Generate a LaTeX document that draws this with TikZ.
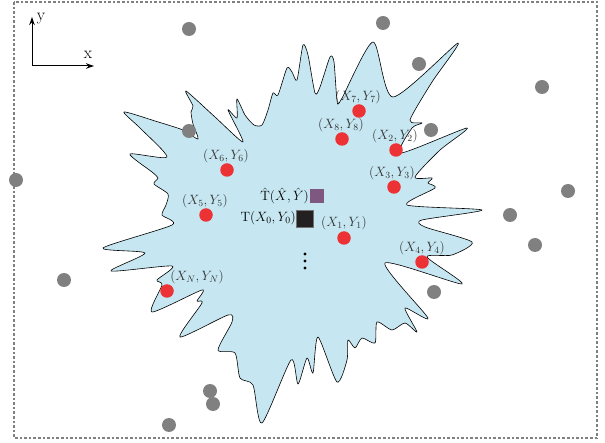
\RequirePackage{fix-cm}
\documentclass[tikz,border=0pt]{standalone}
\usetikzlibrary{arrows.meta}
\definecolor{blobfill}{RGB}{198,231,241}
\definecolor{sensorred}{RGB}{236,50,52}
\definecolor{anchorgray}{RGB}{128,128,128}
\definecolor{estpurple}{RGB}{127,88,130}
\definecolor{truedark}{RGB}{35,32,34}
\begin{document}
\begin{tikzpicture}[x=1pt,y=-1pt,
  graydot/.style={circle,fill=anchorgray,inner sep=0pt,minimum size=14pt},
  reddot/.style={circle,fill=sensorred,inner sep=0pt,minimum size=13.5pt},
  coordlabel/.style={text=black!80,font=\fontsize{13.5}{15}\selectfont,inner sep=0pt},
  targetlabel/.style={text=black,font=\fontsize{13.5}{15}\selectfont,inner sep=0pt,anchor=east},
  axislabel/.style={font=\fontsize{17}{19}\selectfont,inner sep=0pt},
  framebox/.style={draw=anchorgray,line width=1.3pt,dash pattern=on 2.6pt off 2pt},
  axisarrow/.style={line width=1pt,-{Stealth[length=8pt,width=5.5pt]}},
  smalldot/.style={circle,fill=black,inner sep=0pt,minimum size=3.4pt}]

\useasboundingbox (0,0) rectangle (605,443);
\draw[framebox] (14,2) rectangle (597,438);

% axes
\coordinate (orig) at (32,66);
\coordinate (yend) at (32,17);
\coordinate (xend) at (94,66);
\draw[axisarrow] (orig) -- (yend);
\draw[axisarrow] (orig) -- (xend);
\node[axislabel] (ylab) at (41,19) {y};
\node[axislabel] (xlab) at (88,55) {x};

% region
\draw[fill=blobfill,line width=0.6pt,line join=round]
  plot[smooth cycle,tension=0.42] coordinates {
  (124,112) (155,121) (183,130) (198,139) (193,124) (191,112) (193,106) (186,91)
  (215,117) (243,142) (228,110) (237,118) (237,99) (245,115) (254,125) (262,125)
  (268,110) (273,93) (278,95) (287,68) (292,72) (297,80) (303,45) (308,55)
  (315,93) (320,87) (330,57) (334,62) (337,100) (341,100) (373,42) (393,97)
  (458,43) (432,82) (410,120) (422,123) (412,128) (401,153) (467,128) (440,150)
  (415,177) (432,178) (428,183) (435,188) (407,205) (482,210) (422,220) (425,227)
  (472,242) (452,255) (427,257) (462,284) (385,263) (428,318) (405,308) (417,332)
  (405,323) (392,330) (377,322) (375,343) (362,338) (355,348) (348,340) (347,360)
  (337,382) (318,337) (313,373) (307,358) (298,384) (291,360) (262,423) (253,385)
  (240,378) (235,353) (218,350) (232,322) (228,315) (180,337) (202,303) (197,301)
  (202,290) (152,312) (162,285) (157,280) (172,266) (111,271) (145,253) (103,248)
  (172,225) (162,215) (166,205) (168,194) (154,184) (158,178) (152,172) (130,154)
  (167,157) (140,128)};

% anchors
\node[graydot] (g1) at (189,29) {};
\node[graydot] (g2) at (383,23) {};
\node[graydot] (g3) at (419,64) {};
\node[graydot] (g4) at (542,87) {};
\node[graydot] (g5) at (431,130) {};
\node[graydot] (g6) at (189,131) {};
\node[graydot] (g7) at (16,180) {};
\node[graydot] (g8) at (568,191) {};
\node[graydot] (g9) at (510,215) {};
\node[graydot] (g10) at (535,245) {};
\node[graydot] (g11) at (434,292) {};
\node[graydot] (g12) at (64,280) {};
\node[graydot] (g13) at (210,391) {};
\node[graydot] (g14) at (213,404) {};
\node[graydot] (g15) at (169,425) {};

% sensors
\node[reddot] (s7) at (359,111) {};
\node[reddot] (s8) at (342,139) {};
\node[reddot] (s2) at (396,150) {};
\node[reddot] (s3) at (394,187) {};
\node[reddot] (s6) at (227,170) {};
\node[reddot] (s5) at (206,215) {};
\node[reddot] (s1) at (344,238) {};
\node[reddot] (s4) at (422,262) {};
\node[reddot] (sN) at (167,291) {};

\node[coordlabel] (l7) at (358,97) {$(X_7,Y_7)$};
\node[coordlabel] (l8) at (341,125) {$(X_8,Y_8)$};
\node[coordlabel] (l2) at (395,136) {$(X_2,Y_2)$};
\node[coordlabel] (l3) at (392,173) {$(X_3,Y_3)$};
\node[coordlabel] (l6) at (226,156) {$(X_6,Y_6)$};
\node[coordlabel] (l5) at (205,201) {$(X_5,Y_5)$};
\node[coordlabel] (l1) at (344,223) {$(X_1,Y_1)$};
\node[coordlabel] (l4) at (422,248) {$(X_4,Y_4)$};
\node[coordlabel] (lN) at (197,277) {$(X_N,Y_N)$};

% target and estimate
\node[fill=estpurple,inner sep=0pt,minimum size=14.5pt] (est) at (317,196) {};
\node[fill=truedark,draw=black!55,line width=0.5pt,inner sep=0pt,minimum size=17pt] (tgt) at (305,219) {};
\node[targetlabel] (estlab) at (309,196) {$\hat{\mathrm{T}}(\hat{X},\hat{Y})$};
\node[targetlabel] (tgtlab) at (296,218) {$\mathrm{T}(X_0,Y_0)$};

\node[smalldot] (d1) at (305,254) {};
\node[smalldot] (d2) at (305,261) {};
\node[smalldot] (d3) at (305,268) {};
\end{tikzpicture}
\end{document}
